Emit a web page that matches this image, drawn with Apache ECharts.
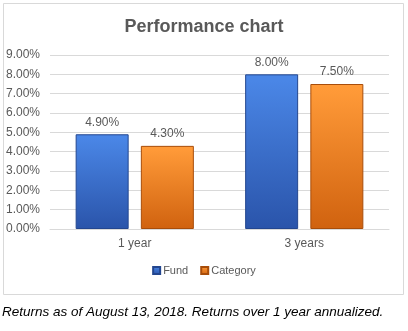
<!DOCTYPE html>
<html>
<head>
<meta charset="utf-8">
<script src="https://cdn.jsdelivr.net/npm/echarts@6/dist/echarts.min.js"></script>
<style>
  html, body { margin: 0; padding: 0; background: #fff; }
  #chart { width: 408px; height: 331px; }
</style>
</head>
<body>
<div id="chart"></div>
<script>
// Period categories and returns (percent)
const periods = ['1 year', '3 years'];
const fundReturns = [4.9, 8.0];
const categoryReturns = [4.3, 7.5];
const seriesNames = ['Fund', 'Category'];
const titleText = 'Performance chart';
const footnote = 'Returns as of August 13, 2018. Returns over 1 year annualized.';

const FONT = '"Liberation Sans", Arial, sans-serif';
const TEXT = '#595959';

function vgrad(top, bottom) {
  return new echarts.graphic.LinearGradient(0, 0, 0, 1, [
    { offset: 0, color: top },
    { offset: 0.04, color: top },
    { offset: 1, color: bottom }
  ]);
}

const pct = v => v.toFixed(2) + '%';

const chart = echarts.init(document.getElementById('chart'), null, { renderer: 'canvas' });
chart.setOption({
  animation: false,
  backgroundColor: '#fff',
  textStyle: { fontFamily: FONT },
  title: {
    text: titleText,
    left: 'center',
    top: 13,
    textStyle: { fontFamily: FONT, fontSize: 18, fontWeight: 'bold', color: TEXT }
  },
  legend: {
    data: seriesNames,
    bottom: 50,
    left: 'center',
    itemWidth: 7,
    itemHeight: 7,
    itemGap: 12,
    icon: 'rect',
    textStyle: { fontFamily: FONT, fontSize: 11, color: TEXT, padding: [0, 0, 0, -2] }
  },
  grid: { left: 50, right: 19, top: 55, bottom: 102, containLabel: false },
  xAxis: {
    type: 'category',
    data: periods,
    axisLine: { lineStyle: { color: '#d9d9d9' } },
    axisTick: { show: false },
    axisLabel: { color: TEXT, fontSize: 12, margin: 9, fontFamily: FONT }
  },
  yAxis: {
    type: 'value',
    min: 0,
    max: 9,
    interval: 1,
    axisLine: { show: false },
    axisTick: { show: false },
    splitLine: { lineStyle: { color: '#d9d9d9' } },
    axisLabel: { color: TEXT, fontSize: 12, margin: 10, fontFamily: FONT, formatter: pct }
  },
  series: [
    {
      name: seriesNames[0],
      type: 'bar',
      data: fundReturns,
      barWidth: 53,
      barGap: '23%',
      itemStyle: {
        color: vgrad('#4a86e6', '#2a54aa'),
        borderColor: '#23468f',
        borderWidth: 1
      },
      label: {
        show: true, position: 'top', distance: 6,
        color: TEXT, fontSize: 12, fontFamily: FONT,
        formatter: p => pct(p.value)
      }
    },
    {
      name: seriesNames[1],
      type: 'bar',
      data: categoryReturns,
      barWidth: 53,
      itemStyle: {
        color: vgrad('#ff9a38', '#d0620f'),
        borderColor: '#a84d0a',
        borderWidth: 1
      },
      label: {
        show: true, position: 'top', distance: 6,
        color: TEXT, fontSize: 12, fontFamily: FONT,
        formatter: p => pct(p.value)
      }
    }
  ],
  graphic: [
    {
      type: 'rect',
      left: 1, top: 1,
      shape: { width: 400, height: 291 },
      style: { fill: 'none', stroke: '#d9d9d9', lineWidth: 1 },
      silent: true
    },
    {
      type: 'text',
      left: 2, top: 305,
      style: {
        text: footnote,
        fill: '#000',
        font: 'italic 13.5px ' + FONT
      }
    }
  ]
});
</script>
</body>
</html>
